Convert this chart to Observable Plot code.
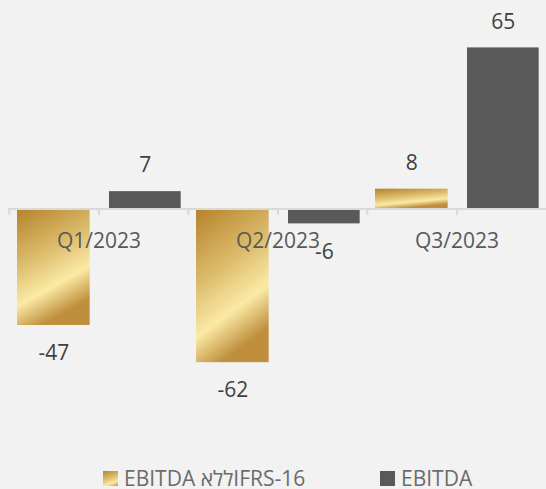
<!DOCTYPE html>
<html>
<head>
<meta charset="utf-8">
<script src="https://cdn.jsdelivr.net/npm/d3@7"></script>
<script src="https://cdn.jsdelivr.net/npm/@observablehq/plot@0.6"></script>
<style>
  html, body { margin: 0; padding: 0; background: #f2f2f2; }
  #wrap { position: relative; width: 546px; height: 489px; background: #f2f2f2; font-family: "Open Sans", sans-serif; }
  #chart svg { display: block; }
  .leg { position: absolute; top: 467px; height: 22px; display: flex; align-items: center; font-size: 21px; color: #6b6b6b; line-height: 22px; white-space: nowrap; }
  .sw { width: 15px; height: 15px; margin-right: 6px; flex: none; }
</style>
</head>
<body>
<div id="wrap">
  <div id="chart"></div>
  <div class="leg" id="leg1" style="left:103px"><span class="sw" style="background: linear-gradient(160deg, #b8852c 0%, #dcbc6c 45%, #fbeaa5 75%, #c39445 100%);"></span><span id="l1"></span></div>
  <div class="leg" id="leg2" style="left:380px"><span class="sw" style="background:#595959"></span><span id="l2"></span></div>
</div>
<script>
const categories = ["Q1/2023", "Q2/2023", "Q3/2023"];
const ebitdaExIFRS = [-47, -62, 8];
const ebitda = [7, -6, 65];
const seriesNames = ["EBITDA ללאIFRS-16", "EBITDA"];

const goldData = categories.map((c, i) => ({cat: c, value: ebitdaExIFRS[i]}));
const grayData = categories.map((c, i) => ({cat: c, value: ebitda[i]}));

const width = 546, height = 445;
const marginLeft = 8, marginRight = 0;
const band = (width - marginLeft - marginRight) / categories.length;
const goldL = 8, goldW = 73, grayL = 100, grayW = 72;
const goldDx = goldL + goldW / 2 - band / 2;
const grayDx = grayL + grayW / 2 - band / 2;

const labelColor = "#404040";
const fs = 21;

const chart = Plot.plot({
  width, height,
  marginTop: 35, marginBottom: 63, marginLeft, marginRight,
  x: {domain: categories, padding: 0, axis: null},
  y: {domain: [-70, 70], axis: null},
  style: {background: "#f2f2f2", fontFamily: "'Open Sans', sans-serif"},
  marks: [
    Plot.barY(goldData, {x: "cat", y: "value", fill: "url(#goldGrad)", insetLeft: goldL, insetRight: band - goldL - goldW}),
    Plot.barY(grayData, {x: "cat", y: "value", fill: "#595959", insetLeft: grayL, insetRight: band - grayL - grayW}),
    Plot.ruleY([0], {stroke: "#d9d9d9", strokeWidth: 2}),
    Plot.ruleX(categories, {x: d => d, y1: 0, y2: -2.6, dx: -band / 2, stroke: "#d9d9d9", strokeWidth: 2}),
    Plot.ruleX(categories, {x: d => d, y1: 0, y2: -2.6, stroke: "#d9d9d9", strokeWidth: 2}),
    Plot.text(categories, {x: d => d, y: () => 0, dy: 32, text: d => d, fontSize: fs, fill: "#595959"}),
    Plot.text(goldData.filter(d => d.value >= 0), {x: "cat", y: "value", text: d => String(d.value), dx: goldDx, dy: -26, fontSize: fs, fill: labelColor}),
    Plot.text(goldData.filter(d => d.value < 0), {x: "cat", y: "value", text: d => String(d.value), dx: goldDx, dy: 28, fontSize: fs, fill: labelColor}),
    Plot.text(grayData.filter(d => d.value >= 0), {x: "cat", y: "value", text: d => String(d.value), dx: grayDx, dy: -26, fontSize: fs, fill: labelColor}),
    Plot.text(grayData.filter(d => d.value < 0), {x: "cat", y: "value", text: d => String(d.value), dx: grayDx, dy: 28, fontSize: fs, fill: labelColor})
  ]
});

const ns = "http://www.w3.org/2000/svg";
const defs = document.createElementNS(ns, "defs");
defs.innerHTML = `<linearGradient id="goldGrad" x1="0" y1="0" x2="0.35" y2="1">
  <stop offset="0" stop-color="#b5822a"/>
  <stop offset="0.45" stop-color="#dcbc6c"/>
  <stop offset="0.75" stop-color="#fbeaa5"/>
  <stop offset="1" stop-color="#bf8f3e"/>
</linearGradient>`;
chart.insertBefore(defs, chart.firstChild);
document.getElementById("chart").appendChild(chart);
document.getElementById("l1").textContent = seriesNames[0];
document.getElementById("l2").textContent = seriesNames[1];
</script>
</body>
</html>
